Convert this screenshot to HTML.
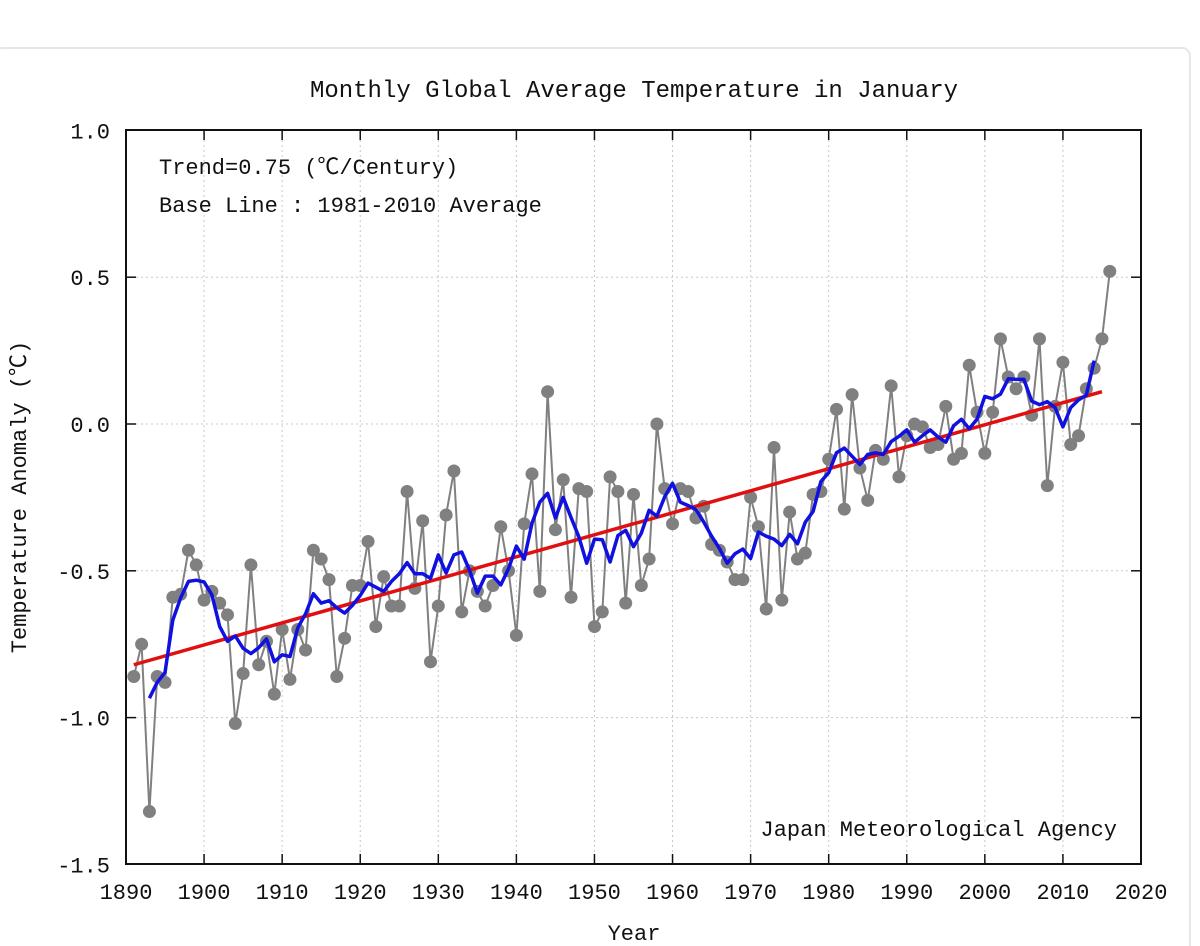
<!DOCTYPE html>
<html><head><meta charset="utf-8"><style>
html,body{margin:0;padding:0;background:#fff;}
svg{display:block;font-family:"Liberation Mono","Noto Sans CJK JP",monospace;}
</style></head><body>
<svg id="s" width="1200" height="946" xmlns="http://www.w3.org/2000/svg">
<rect x="-5" y="48" width="1195" height="910" rx="8" fill="none" stroke="#e6e6e6" stroke-width="2"/>
<text x="634" y="97" font-size="24" text-anchor="middle" fill="#111">Monthly Global Average Temperature in January</text>
<g id="grid"></g>
<g id="ser"></g>
<rect x="126" y="130" width="1015" height="734" fill="none" stroke="#111" stroke-width="2"/>
<text x="159" y="174" font-size="22" fill="#111">Trend=0.75 (℃/Century)</text>
<text x="159" y="212" font-size="22" fill="#111">Base Line : 1981-2010 Average</text>
<text x="1117" y="836" font-size="22" text-anchor="end" fill="#111">Japan Meteorological Agency</text>
<text x="634" y="940" font-size="22" text-anchor="middle" fill="#111">Year</text>
<text transform="translate(26,497) rotate(-90)" font-size="22" text-anchor="middle" fill="#111">Temperature Anomaly (℃)</text>
</svg>
<script>
var d=[-0.86,-0.75,-1.32,-0.86,-0.88,-0.59,-0.58,-0.43,-0.48,-0.60,-0.57,-0.61,-0.65,-1.02,-0.85,-0.48,-0.82,-0.74,-0.92,-0.70,-0.87,-0.70,-0.77,-0.43,-0.46,-0.53,-0.86,-0.73,-0.55,-0.55,-0.40,-0.69,-0.52,-0.62,-0.62,-0.23,-0.56,-0.33,-0.81,-0.62,-0.31,-0.16,-0.64,-0.50,-0.57,-0.62,-0.55,-0.35,-0.50,-0.72,-0.34,-0.17,-0.57,0.11,-0.36,-0.19,-0.59,-0.22,-0.23,-0.69,-0.64,-0.18,-0.23,-0.61,-0.24,-0.55,-0.46,0.00,-0.22,-0.34,-0.22,-0.23,-0.32,-0.28,-0.41,-0.43,-0.47,-0.53,-0.53,-0.25,-0.35,-0.63,-0.08,-0.60,-0.30,-0.46,-0.44,-0.24,-0.23,-0.12,0.05,-0.29,0.10,-0.15,-0.26,-0.09,-0.12,0.13,-0.18,-0.04,0.00,-0.01,-0.08,-0.07,0.06,-0.12,-0.10,0.20,0.04,-0.10,0.04,0.29,0.16,0.12,0.16,0.03,0.29,-0.21,0.06,0.21,-0.07,-0.04,0.12,0.19,0.29,0.52];
function X(y){return 126+(y-1890)*1015/130;}
function Y(v){return 424-v*293.6;}
var ns="http://www.w3.org/2000/svg",s=document.getElementById('s'),g=document.getElementById('grid'),se=document.getElementById('ser');
function el(p,tag,a,t){var e=document.createElementNS(ns,tag);for(var k in a)e.setAttribute(k,a[k]);if(t!=null)e.textContent=t;p.appendChild(e);return e;}
for(var yr=1890;yr<=2020;yr+=10){var x=X(yr);
 if(yr>1890&&yr<2020){el(g,'line',{x1:x,x2:x,y1:130,y2:864,stroke:'#c8c8c8','stroke-dasharray':'2,3'});
 el(g,'line',{x1:x,x2:x,y1:130,y2:140,stroke:'#111','stroke-width':1.5});el(g,'line',{x1:x,x2:x,y1:854,y2:864,stroke:'#111','stroke-width':1.5});}
 el(s,'text',{x:x,y:899,'font-size':22,'text-anchor':'middle',fill:'#111'},yr);}
[1.0,0.5,0.0,-0.5,-1.0,-1.5].forEach(function(v){var y=Y(v);
 if(v<1&&v>-1.5){el(g,'line',{x1:126,x2:1141,y1:y,y2:y,stroke:'#c8c8c8','stroke-dasharray':'2,3'});
 el(g,'line',{x1:126,x2:136,y1:y,y2:y,stroke:'#111','stroke-width':1.5});el(g,'line',{x1:1131,x2:1141,y1:y,y2:y,stroke:'#111','stroke-width':1.5});}
 el(s,'text',{x:110,y:y+8,'font-size':22,'text-anchor':'end',fill:'#111'},v.toFixed(1));});
var p='';d.forEach(function(v,i){p+=(i?'L':'M')+X(1891+i).toFixed(1)+','+Y(v).toFixed(1);});
el(se,'path',{d:p,fill:'none',stroke:'#808080','stroke-width':2});
d.forEach(function(v,i){el(se,'circle',{cx:X(1891+i),cy:Y(v),r:6.5,fill:'#808080'});});
el(se,'line',{x1:X(1891),y1:Y(-0.82),x2:X(2015),y2:Y(0.11),stroke:'#e01010','stroke-width':3.5});
var b='';for(var i=2;i<d.length-2;i++){var m=(d[i-2]+d[i-1]+d[i]+d[i+1]+d[i+2])/5;b+=(i>2?'L':'M')+X(1891+i).toFixed(1)+','+Y(m).toFixed(1);}
el(se,'path',{d:b,fill:'none',stroke:'#1010e0','stroke-width':3.5,'stroke-linejoin':'round'});
</script>
</body></html>
